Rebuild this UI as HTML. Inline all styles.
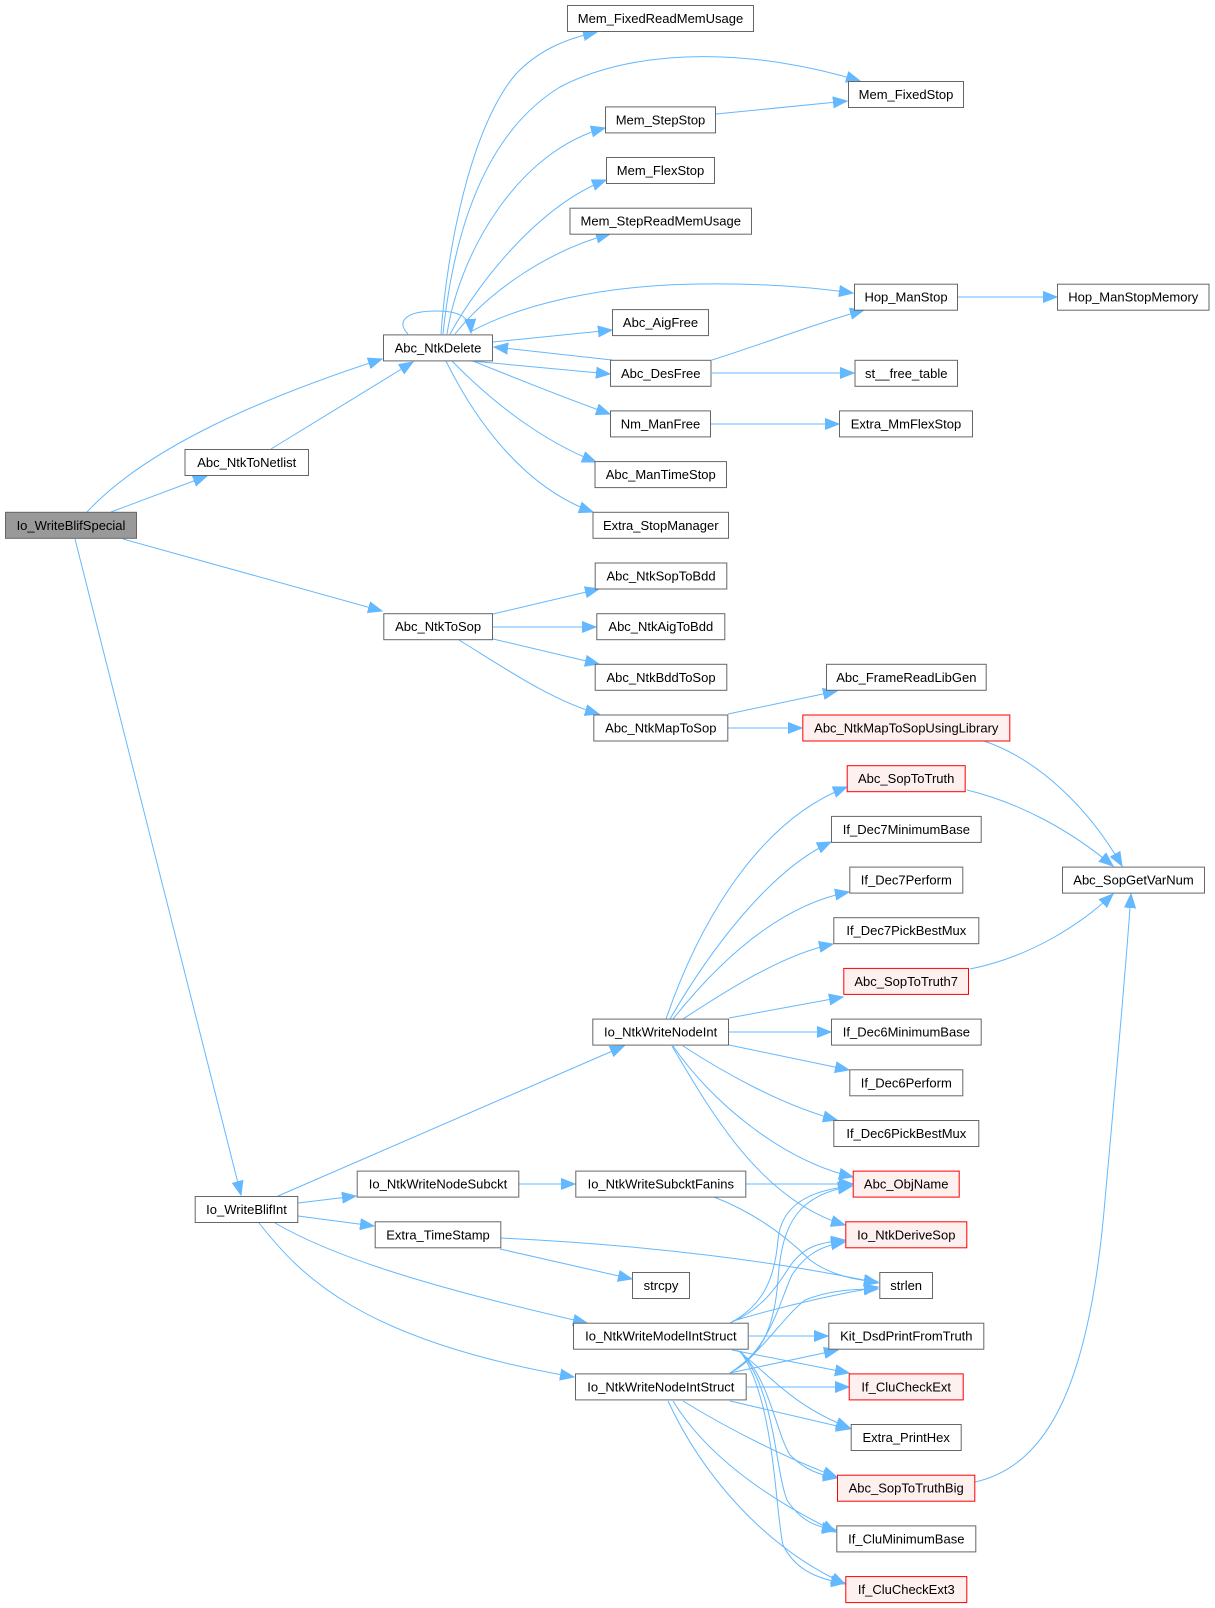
<!DOCTYPE html>
<html><head><meta charset="utf-8"><style>
html,body{margin:0;padding:0;background:#fff;}
svg{display:block;}
text{font-family:"Liberation Sans",Arial,sans-serif;font-size:13px;fill:#000;text-anchor:middle;}
.e{fill:none;stroke:#63b8ff;stroke-width:1;marker-end:url(#ah);}
.n rect{fill:#fff;stroke:#666;stroke-width:1;}
.r rect{fill:#fff0f0;stroke:#ff0000;stroke-width:1;}
.g rect{fill:#999;stroke:#666;stroke-width:1;}
</style></head><body>
<svg width="1215" height="1608" viewBox="0 0 1215 1608" xmlns="http://www.w3.org/2000/svg">
<defs>
<marker id="ah" markerUnits="userSpaceOnUse" markerWidth="16" markerHeight="14" refX="14" refY="6" orient="auto">
<path d="M0,0.5 L14,6 L0,11.5 Z" fill="#63b8ff" stroke="#63b8ff" stroke-width="1"/>
</marker>
</defs>

<!-- edges -->
<path class="e" d="M87,512 C140,455 240,405 382,359"/>
<path class="e" d="M111,512 L207,476"/>
<path class="e" d="M123,539 L382,611"/>
<path class="e" d="M75,539 L241,1195"/>
<path class="e" d="M271,449 L413,362"/>
<path class="e" d="M408,334 C396,322 405,311 436,311 C458,311 470,316 471,333"/>
<path class="e" d="M441,334 C447,250 470,130 515,75 C540,48 570,38 597,32"/>
<path class="e" d="M443,334 C455,220 490,130 560,87 C640,45 760,50 860,81"/>
<path class="e" d="M447,334 C460,250 520,150 605,128"/>
<path class="e" d="M450,334 C480,280 540,205 606,180"/>
<path class="e" d="M455,334 C490,290 550,250 610,234"/>
<path class="e" d="M470,332 C520,305 600,285 700,284 C760,283 810,287 853,293"/>
<path class="e" d="M493,342 L612,330"/>
<path class="e" d="M612,360 L494,347"/>
<path class="e" d="M471,361 L610,374"/>
<path class="e" d="M473,361 C520,380 570,400 610,414"/>
<path class="e" d="M452,361 C490,400 540,440 596,462"/>
<path class="e" d="M446,361 C480,430 530,490 593,512"/>
<path class="e" d="M716,114 L847,101"/>
<path class="e" d="M958,297 L1057,297"/>
<path class="e" d="M712,360 C760,345 820,322 864,310"/>
<path class="e" d="M712,373 L854,373"/>
<path class="e" d="M711,424 L839,424"/>
<path class="e" d="M493,614 L599,589"/>
<path class="e" d="M493,627 L596,627"/>
<path class="e" d="M493,639 L599,664"/>
<path class="e" d="M459,640 C500,665 550,700 599,714"/>
<path class="e" d="M728,714 L837,691"/>
<path class="e" d="M728,728 L802,728"/>
<path class="e" d="M984,741 C1040,760 1090,810 1122,866"/>
<path class="e" d="M967,790 C1020,803 1070,830 1113,866"/>
<path class="e" d="M970,969 C1030,957 1080,925 1113,894"/>
<path class="e" d="M975,1482 C1050,1465 1090,1380 1105,1200 C1115,1090 1125,980 1131,894"/>
<path class="e" d="M666,1019 C700,920 760,820 847,787"/>
<path class="e" d="M670,1019 C710,950 770,870 831,842"/>
<path class="e" d="M673,1019 C720,960 780,905 849,892"/>
<path class="e" d="M683,1019 C720,995 780,955 833,944"/>
<path class="e" d="M729,1018 L843,997"/>
<path class="e" d="M729,1032 L831,1032"/>
<path class="e" d="M729,1045 L849,1070"/>
<path class="e" d="M683,1046 C720,1070 780,1105 837,1120"/>
<path class="e" d="M673,1046 C710,1100 780,1160 853,1177"/>
<path class="e" d="M672,1046 C710,1110 760,1200 845,1225"/>
<path class="e" d="M278,1196 L624,1046"/>
<path class="e" d="M298,1203 L356,1196"/>
<path class="e" d="M298,1216 L374,1226"/>
<path class="e" d="M275,1223 C330,1255 420,1285 587,1323"/>
<path class="e" d="M259,1223 C300,1275 360,1340 574,1377"/>
<path class="e" d="M519,1184 L575,1184"/>
<path class="e" d="M746,1184 L853,1184"/>
<path class="e" d="M714,1197 C760,1215 790,1240 810,1260 C830,1275 855,1280 878,1282"/>
<path class="e" d="M501,1238 C650,1245 780,1262 878,1283"/>
<path class="e" d="M500,1249 L632,1279"/>
<path class="e" d="M730,1323 C765,1305 775,1275 778,1240 C781,1205 810,1190 852,1186"/>
<path class="e" d="M730,1323 C760,1310 775,1290 790,1266 C805,1245 820,1243 845,1240"/>
<path class="e" d="M733,1321 C770,1310 820,1297 878,1287"/>
<path class="e" d="M749,1336 L828,1336"/>
<path class="e" d="M732,1350 L849,1373"/>
<path class="e" d="M737,1350 C765,1370 790,1405 850,1428"/>
<path class="e" d="M740,1351 C770,1380 775,1430 790,1455 C805,1470 820,1475 837,1478"/>
<path class="e" d="M740,1351 C775,1390 775,1470 787,1500 C800,1520 815,1527 836,1530"/>
<path class="e" d="M740,1351 C775,1400 775,1510 783,1545 C795,1570 820,1580 845,1583"/>
<path class="e" d="M730,1373 C765,1355 775,1320 778,1280 C782,1220 800,1195 852,1186"/>
<path class="e" d="M730,1373 C770,1350 780,1300 792,1275 C805,1255 820,1246 845,1242"/>
<path class="e" d="M730,1373 C765,1350 780,1320 805,1300 C830,1290 855,1289 878,1289"/>
<path class="e" d="M730,1373 L838,1350"/>
<path class="e" d="M747,1387 L849,1387"/>
<path class="e" d="M730,1401 L850,1429"/>
<path class="e" d="M683,1401 C730,1430 790,1460 837,1477"/>
<path class="e" d="M673,1401 C700,1445 750,1490 836,1532"/>
<path class="e" d="M668,1401 C700,1470 760,1545 845,1584"/>

<!-- nodes -->
<g class="g"><rect x="5.5" y="512.3" width="131" height="26"/><text x="71" y="529.8">Io_WriteBlifSpecial</text></g>
<g class="n"><rect x="185" y="449.5" width="123.5" height="26"/><text x="246.75" y="467">Abc_NtkToNetlist</text></g>
<g class="n"><rect x="383.5" y="334.9" width="109" height="26"/><text x="438" y="352.4">Abc_NtkDelete</text></g>
<g class="n"><rect x="567.5" y="5.5" width="186" height="26"/><text x="660.5" y="23">Mem_FixedReadMemUsage</text></g>
<g class="n"><rect x="848.5" y="81.5" width="115" height="26"/><text x="906" y="99">Mem_FixedStop</text></g>
<g class="n"><rect x="605.5" y="106.9" width="110" height="26"/><text x="660.5" y="124.4">Mem_StepStop</text></g>
<g class="n"><rect x="606.5" y="157.5" width="108" height="26"/><text x="660.5" y="175">Mem_FlexStop</text></g>
<g class="n"><rect x="570" y="208.2" width="181.5" height="26"/><text x="660.75" y="225.7">Mem_StepReadMemUsage</text></g>
<g class="n"><rect x="854.5" y="284.2" width="103" height="26"/><text x="906" y="301.7">Hop_ManStop</text></g>
<g class="n"><rect x="1057.5" y="284.2" width="151.5" height="26"/><text x="1133.25" y="301.7">Hop_ManStopMemory</text></g>
<g class="n"><rect x="612.5" y="309.6" width="96" height="26"/><text x="660.5" y="327.1">Abc_AigFree</text></g>
<g class="n"><rect x="610.5" y="360.3" width="100.5" height="26"/><text x="660.75" y="377.8">Abc_DesFree</text></g>
<g class="n"><rect x="855" y="360.3" width="102.5" height="26"/><text x="906.25" y="377.8">st__free_table</text></g>
<g class="n"><rect x="610.5" y="410.9" width="100" height="26"/><text x="660.5" y="428.4">Nm_ManFree</text></g>
<g class="n"><rect x="839.5" y="410.9" width="133" height="26"/><text x="906" y="428.4">Extra_MmFlexStop</text></g>
<g class="n"><rect x="595" y="461.6" width="131.5" height="26"/><text x="660.75" y="479.1">Abc_ManTimeStop</text></g>
<g class="n"><rect x="593" y="512.3" width="135.5" height="26"/><text x="660.75" y="529.8">Extra_StopManager</text></g>
<g class="n"><rect x="595.2" y="563" width="131.6" height="26"/><text x="661" y="580.5">Abc_NtkSopToBdd</text></g>
<g class="n"><rect x="383.8" y="613.7" width="108.7" height="26"/><text x="438.15" y="631.2">Abc_NtkToSop</text></g>
<g class="n"><rect x="596.8" y="613.7" width="128" height="26"/><text x="660.8" y="631.2">Abc_NtkAigToBdd</text></g>
<g class="n"><rect x="595.2" y="664.3" width="131.6" height="26"/><text x="661" y="681.8">Abc_NtkBddToSop</text></g>
<g class="n"><rect x="826.5" y="664.3" width="159.7" height="26"/><text x="906.35" y="681.8">Abc_FrameReadLibGen</text></g>
<g class="n"><rect x="593.8" y="715" width="134" height="26"/><text x="660.8" y="732.5">Abc_NtkMapToSop</text></g>
<g class="r"><rect x="802.8" y="715" width="207" height="26"/><text x="906.3" y="732.5">Abc_NtkMapToSopUsingLibrary</text></g>
<g class="r"><rect x="847.2" y="765.7" width="118" height="26"/><text x="906.2" y="783.2">Abc_SopToTruth</text></g>
<g class="n"><rect x="831.5" y="816.4" width="149.7" height="26"/><text x="906.35" y="833.9">If_Dec7MinimumBase</text></g>
<g class="n"><rect x="849.8" y="867.1" width="113" height="26"/><text x="906.3" y="884.6">If_Dec7Perform</text></g>
<g class="n"><rect x="1062.5" y="867.1" width="142" height="26"/><text x="1133.5" y="884.6">Abc_SopGetVarNum</text></g>
<g class="n"><rect x="833.8" y="917.7" width="145" height="26"/><text x="906.3" y="935.2">If_Dec7PickBestMux</text></g>
<g class="r"><rect x="843.8" y="968.4" width="124.7" height="26"/><text x="906.15" y="985.9">Abc_SopToTruth7</text></g>
<g class="n"><rect x="592.8" y="1019.1" width="135.7" height="26"/><text x="660.65" y="1036.6">Io_NtkWriteNodeInt</text></g>
<g class="n"><rect x="831.5" y="1019.1" width="149.7" height="26"/><text x="906.35" y="1036.6">If_Dec6MinimumBase</text></g>
<g class="n"><rect x="849.8" y="1069.8" width="113" height="26"/><text x="906.3" y="1087.3">If_Dec6Perform</text></g>
<g class="n"><rect x="833.8" y="1120.5" width="145" height="26"/><text x="906.3" y="1138">If_Dec6PickBestMux</text></g>
<g class="n"><rect x="357.2" y="1171.1" width="161.6" height="26"/><text x="438" y="1188.6">Io_NtkWriteNodeSubckt</text></g>
<g class="n"><rect x="575.8" y="1171.1" width="170" height="26"/><text x="660.8" y="1188.6">Io_NtkWriteSubcktFanins</text></g>
<g class="r"><rect x="853.2" y="1171.1" width="106" height="26"/><text x="906.2" y="1188.6">Abc_ObjName</text></g>
<g class="n"><rect x="195.2" y="1196.5" width="102.6" height="26"/><text x="246.5" y="1214">Io_WriteBlifInt</text></g>
<g class="n"><rect x="375.2" y="1221.8" width="125.6" height="26"/><text x="438" y="1239.3">Extra_TimeStamp</text></g>
<g class="r"><rect x="845.8" y="1221.8" width="121" height="26"/><text x="906.3" y="1239.3">Io_NtkDeriveSop</text></g>
<g class="n"><rect x="632.5" y="1272.5" width="57" height="26"/><text x="661" y="1290">strcpy</text></g>
<g class="n"><rect x="879.8" y="1272.5" width="52.7" height="26"/><text x="906.15" y="1290">strlen</text></g>
<g class="n"><rect x="573.5" y="1323.2" width="174.7" height="26"/><text x="660.85" y="1340.7">Io_NtkWriteModelIntStruct</text></g>
<g class="n"><rect x="828.8" y="1323.2" width="155" height="26"/><text x="906.3" y="1340.7">Kit_DsdPrintFromTruth</text></g>
<g class="n"><rect x="575.5" y="1373.9" width="170.7" height="26"/><text x="660.85" y="1391.4">Io_NtkWriteNodeIntStruct</text></g>
<g class="r"><rect x="849.2" y="1373.9" width="114" height="26"/><text x="906.2" y="1391.4">If_CluCheckExt</text></g>
<g class="n"><rect x="851.2" y="1424.5" width="110" height="26"/><text x="906.2" y="1442">Extra_PrintHex</text></g>
<g class="r"><rect x="837.5" y="1475.2" width="137.3" height="26"/><text x="906.15" y="1492.7">Abc_SopToTruthBig</text></g>
<g class="n"><rect x="836.8" y="1525.9" width="139" height="26"/><text x="906.3" y="1543.4">If_CluMinimumBase</text></g>
<g class="r"><rect x="845.8" y="1576.6" width="121" height="26"/><text x="906.3" y="1594.1">If_CluCheckExt3</text></g>
</svg>
</body></html>
